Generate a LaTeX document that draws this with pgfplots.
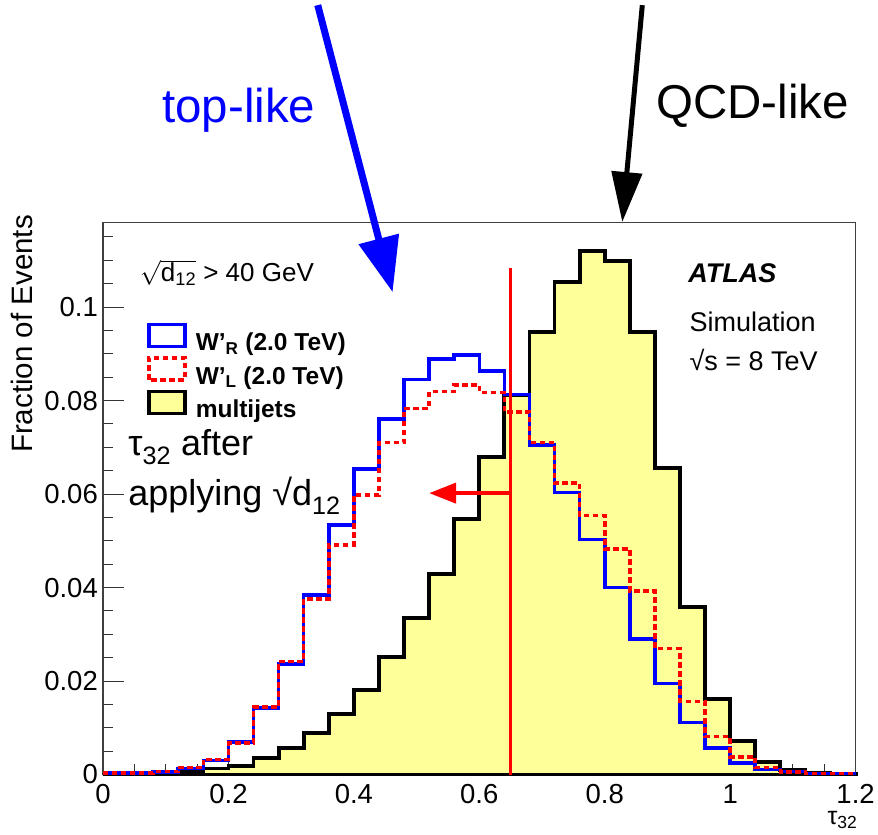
\documentclass[border=0pt]{standalone}
\usepackage{fontspec}
\setmainfont{Liberation Sans}
\usepackage{pgfplots}
\pgfplotsset{compat=1.18}
\usepackage{pgfplotstable}
\usetikzlibrary{arrows.meta}
\definecolor{histyellow}{RGB}{255,255,153}
\newcommand\fs[1]{\fontsize{#1pt}{#1pt}\selectfont}

\pgfplotstableread{
x     wr      wl      mj
0.00  0.0003  0.0003  0.0000
0.04  0.0003  0.0003  0.0000
0.08  0.0005  0.0006  0.0002
0.12  0.0013  0.0015  0.0006
0.16  0.0030  0.0032  0.0013
0.20  0.0069  0.0067  0.0019
0.24  0.0142  0.0144  0.0036
0.28  0.0237  0.0242  0.0056
0.32  0.0384  0.0375  0.0088
0.36  0.0534  0.0491  0.0129
0.40  0.0653  0.0598  0.0181
0.44  0.0760  0.0710  0.0252
0.48  0.0845  0.0783  0.0334
0.52  0.0889  0.0819  0.0429
0.56  0.0897  0.0833  0.0547
0.60  0.0863  0.0817  0.0680
0.64  0.0813  0.0776  0.0812
0.68  0.0705  0.0710  0.0947
0.72  0.0603  0.0624  0.1053
0.76  0.0503  0.0554  0.1120
0.80  0.0400  0.0482  0.1099
0.84  0.0290  0.0393  0.0946
0.88  0.0195  0.0270  0.0655
0.92  0.0111  0.0156  0.0358
0.96  0.0057  0.0081  0.0161
1.00  0.0025  0.0038  0.0072
1.04  0.0011  0.0015  0.0027
1.08  0.0006  0.0005  0.0010
1.12  0.0002  0.0002  0.0003
1.16  0.0002  0.0002  0.0001
1.20  0.0002  0.0002  0.0001
}\histdata

\begin{document}
\begin{tikzpicture}
\path[use as bounding box] (-103pt,-60.5pt) rectangle (775pt,774.5pt);
\begin{axis}[
  at={(0pt,0pt)}, anchor=south west,
  width=752.6pt, height=552pt, scale only axis,
  xmin=0, xmax=1.2, ymin=0, ymax=0.1181,
  clip=false,
  axis line style={black!75, line width=1.2pt},
  xtick={0,0.2,0.4,0.6,0.8,1,1.2},
  xticklabels={0,0.2,0.4,0.6,0.8,1,1.2},
  ytick={0,0.02,0.04,0.06,0.08,0.1},
  yticklabels={0,0.02,0.04,0.06,0.08,0.1},
  minor xtick={0.05,0.1,...,1.16},
  minor ytick={0.005,0.01,...,0.116},
  xtick pos=bottom, ytick pos=left, tick align=inside,
  major tick length=21pt, minor tick length=10.5pt,
  tick style={black!80, line width=1pt},
  xticklabel style={font=\fs{27.5}, inner sep=0pt, yshift=-10pt},
  yticklabel style={font=\fs{27.5}, inner sep=0pt, xshift=-5pt},
  xlabel={τ\textsubscript{32}},
  xlabel style={font=\fs{25}, at={(axis description cs:1,0)}, anchor=base east, inner sep=0pt, yshift=-50pt, xshift=2pt},
  ylabel={Fraction of Events},
  ylabel style={font=\fs{29.5}, at={(axis description cs:-0.0924,1.0136)}, anchor=south east, inner sep=0pt},
  legend style={at={(axis cs:0.0701,0.0967)}, anchor=north west, draw=none, fill=none,
    inner sep=0pt, font=\fs{24.5}\bfseries, row sep=4pt, column sep=9pt,
    nodes={inner sep=0pt}},
  legend cell align=left,
]
% multijets
\addplot[forget plot, const plot, fill=histyellow, draw=black, line width=3.8pt]
  table[x=x, y=mj] {\histdata} \closedcycle;
% W'_R
\addplot[forget plot, const plot, draw=blue, line width=3.6pt]
  table[x=x, y=wr] {\histdata};
% W'_L
\addplot[forget plot, const plot, draw=red, line width=3.6pt, dash pattern=on 5.5pt off 3.5pt]
  table[x=x, y=wl] {\histdata};

\addlegendimage{legend image code/.code={\draw[blue, line width=3.6pt] (0pt,-4pt) rectangle (36pt,18pt);}}
\addlegendentry{W'\textsubscript{R} (2.0 TeV)}
\addlegendimage{legend image code/.code={\draw[red, line width=3.6pt, dash pattern=on 5.5pt off 3.5pt] (0pt,-4pt) rectangle (36pt,18pt);}}
\addlegendentry{W'\textsubscript{L} (2.0 TeV)}
\addlegendimage{legend image code/.code={\draw[black, fill=histyellow, line width=3.6pt] (0pt,-4pt) rectangle (36pt,18pt);}}
\addlegendentry{multijets}

% cut line and arrow
\draw[red, line width=3.6pt] (axis cs:0.65,0) -- (axis cs:0.65,0.1083);
\draw[red, line width=4pt, -{Triangle[width=20pt,length=27pt]}] (axis cs:0.65,0.0602) -- (axis cs:0.52,0.0602);

% texts inside
\node[anchor=base west, font=\fs{26}, inner sep=0pt] at (axis cs:0.059,0.1055)
  {$\sqrt{\mbox{d\textsubscript{12}}}$ > 40 GeV};
\node[anchor=base west, font=\fs{36}, inner sep=0pt] at (axis cs:0.040,0.0683)
  {τ\textsubscript{32} after};
\node[anchor=base west, font=\fs{36}, inner sep=0pt] at (axis cs:0.040,0.0576)
  {applying √d\textsubscript{12}};
\node[anchor=base west, font=\fs{27}\bfseries\itshape, inner sep=0pt] at (axis cs:0.933,0.1053) {ATLAS};
\node[anchor=base west, font=\fs{27}, inner sep=0pt] at (axis cs:0.935,0.0947) {Simulation};
\node[anchor=base west, font=\fs{27}, inner sep=0pt] at (axis cs:0.935,0.0865) {√s = 8 TeV};

% texts and arrows above
\node[anchor=base, font=\fs{47.5}, text=blue, inner sep=0pt] at (axis cs:0.2166,0.1396) {top-like};
\node[anchor=base, font=\fs{47.5}, inner sep=0pt] at (axis cs:1.036,0.1404) {QCD-like};
\draw[blue, line width=7pt, -{Triangle[width=40pt,length=55pt]}] (axis cs:0.3424,0.1646) -- (axis cs:0.4618,0.1032);
\draw[black, line width=5pt, -{Triangle[width=30pt,length=50pt]}] (axis cs:0.8599,0.1646) -- (axis cs:0.828,0.1182);
\end{axis}
\end{tikzpicture}
\end{document}
